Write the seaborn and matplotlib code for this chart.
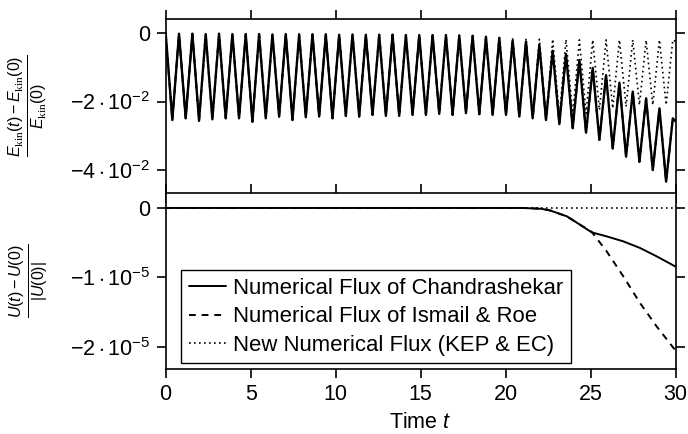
import matplotlib
matplotlib.use("Agg")
import numpy as np
import pandas as pd
import seaborn as sns
import matplotlib.pyplot as plt

# ---------------- data ----------------
# kinetic energy oscillation: period
period = 0.785
# relative kinetic energy at successive maxima (k = 0..38)
chandra_peaks = [0.0, -0.0002, -0.0002, -0.0003, -0.0002, -0.0003, -0.0003, -0.0003,
                 -0.0004, -0.0003, -0.0004, -0.0004, -0.0004, -0.0005, -0.0004, -0.0005,
                 -0.0005, -0.0005, -0.0006, -0.0006, -0.0006, -0.0006, -0.0007, -0.0008,
                 -0.0011, -0.0014, -0.0022, -0.0025, -0.0035, -0.0052, -0.0061, -0.0079,
                 -0.0102, -0.0123, -0.0145, -0.0171, -0.0191, -0.0220, -0.0249]
# relative kinetic energy at successive minima (k = 0..37)
chandra_troughs = [-0.0254, -0.0249, -0.0256, -0.0252, -0.0249, -0.0249, -0.0259, -0.0249,
                   -0.0244, -0.0254, -0.0246, -0.0244, -0.0249, -0.0242, -0.0244, -0.0239,
                   -0.0242, -0.0242, -0.0239, -0.0239, -0.0236, -0.0239, -0.0234, -0.0237,
                   -0.0239, -0.0239, -0.0244, -0.0249, -0.0254, -0.0266, -0.0278, -0.0291,
                   -0.0312, -0.0337, -0.0361, -0.0376, -0.0400, -0.0434]
ismail_peaks = list(chandra_peaks)
ismail_troughs = list(chandra_troughs)
kep_peaks = chandra_peaks[:25] + [-0.0012, -0.0015, -0.0016, -0.0018, -0.0018, -0.0019,
                                  -0.0020, -0.0020, -0.0020, -0.0020, -0.0020, -0.0021,
                                  -0.0020, -0.0020]
kep_troughs = chandra_troughs[:29] + [-0.0245, -0.0240, -0.0235, -0.0225, -0.0220,
                                      -0.0215, -0.0210, -0.0210, -0.0210]
end_t = 30.0
chandra_end = -0.0258
kep_end = -0.0025

# total energy deviation (units of 1e-5)
chandra_t = [0, 21.0, 22.1, 22.6, 23.6, 24.37, 25.06, 25.94, 26.92, 27.9, 28.88, 30.0]
chandra_U = [0, 0, -0.012, -0.035, -0.121, -0.241, -0.352, -0.41, -0.482, -0.577, -0.698, -0.847]
ismail_t = [0, 21.0, 22.1, 22.6, 23.6, 24.37, 25.06, 25.94, 26.92, 27.9, 28.88, 30.0]
ismail_U = [0, 0, -0.012, -0.035, -0.121, -0.241, -0.345, -0.626, -0.987, -1.371, -1.709, -2.06]
kep_t = [0, 30.0]
kep_U = [0, 0]

labels = ["Numerical Flux of Chandrashekar", "Numerical Flux of Ismail & Roe",
          "New Numerical Flux (KEP & EC)"]
xticks = [0, 5, 10, 15, 20, 25, 30]
top_yticks = [0, -0.02, -0.04]
top_yticklabels = ["0", r"$-2\cdot10^{-2}$", r"$-4\cdot10^{-2}$"]
bot_yticks = [0, -1e-5, -2e-5]
bot_yticklabels = ["0", r"$-1\cdot10^{-5}$", r"$-2\cdot10^{-5}$"]


def zigzag(peaks, troughs, end_val):
    t, v = [], []
    for k, p in enumerate(peaks):
        t.append(k * period)
        v.append(p)
        if k < len(troughs):
            t.append((k + 0.5) * period)
            v.append(troughs[k])
    t.append(end_t)
    v.append(end_val)
    return pd.DataFrame({"t": t, "v": v})


df_c = zigzag(chandra_peaks, chandra_troughs, chandra_end)
df_i = zigzag(ismail_peaks, ismail_troughs, chandra_end)
df_k = zigzag(kep_peaks, kep_troughs, kep_end)

bc = pd.DataFrame({"t": chandra_t, "v": np.array(chandra_U) * 1e-5})
bi = pd.DataFrame({"t": ismail_t, "v": np.array(ismail_U) * 1e-5})
bk = pd.DataFrame({"t": kep_t, "v": np.array(kep_U) * 1e-5})

# ---------------- style ----------------
sns.set_style("ticks")
plt.rcParams["font.family"] = ["Liberation Sans", "DejaVu Sans"]
plt.rcParams["mathtext.fontset"] = "custom"
plt.rcParams["mathtext.rm"] = "Liberation Sans"
plt.rcParams["mathtext.it"] = "Liberation Sans:italic"
plt.rcParams["mathtext.tt"] = "Liberation Serif"
plt.rcParams["axes.linewidth"] = 1.2
plt.rcParams["axes.edgecolor"] = "black"
plt.rcParams["text.color"] = "black"
plt.rcParams["axes.labelcolor"] = "black"
plt.rcParams["xtick.color"] = "black"
plt.rcParams["ytick.color"] = "black"

FS = 15.5
fig = plt.figure(figsize=(6.88, 4.34), dpi=100)
ax1 = fig.add_axes([0.2408, 0.5541, 0.7413, 0.4021])
ax2 = fig.add_axes([0.2408, 0.1505, 0.7413, 0.4037])

dash = (0, (3.5, 3))
dot = (0, (1, 2))

sns.lineplot(data=df_k, x="t", y="v", ax=ax1, color="black", lw=1.2, linestyle=dot,
             estimator=None, sort=False)
sns.lineplot(data=df_i, x="t", y="v", ax=ax1, color="black", lw=1.4, linestyle=dash,
             estimator=None, sort=False)
sns.lineplot(data=df_c, x="t", y="v", ax=ax1, color="black", lw=1.7,
             estimator=None, sort=False)

sns.lineplot(data=bc, x="t", y="v", ax=ax2, color="black", lw=1.4,
             estimator=None, sort=False, label=labels[0])
sns.lineplot(data=bi, x="t", y="v", ax=ax2, color="black", lw=1.4, linestyle=dash,
             estimator=None, sort=False, label=labels[1])
sns.lineplot(data=bk, x="t", y="v", ax=ax2, color="black", lw=1.2, linestyle=dot,
             estimator=None, sort=False, label=labels[2])

for ax in (ax1, ax2):
    ax.set_xlim(0, 30)
    ax.set_xticks(xticks)
    ax.tick_params(direction="out", top=True, right=True, length=6.5, width=1.2,
                   labelsize=FS, pad=4.5, colors="black")
    ax.set_xlabel("")
    ax.set_ylabel("")
    for s in ax.spines.values():
        s.set_visible(True)
        s.set_color("black")

ax1.set_ylim(-0.04686, 0.00409)
ax1.set_yticks(top_yticks)
ax1.set_yticklabels(top_yticklabels)
ax1.tick_params(labelbottom=False)

ax2.set_ylim(-2.319e-5, 0.209e-5)
ax2.set_yticks(bot_yticks)
ax2.set_yticklabels(bot_yticklabels)

leg = ax2.legend(loc="lower left", bbox_to_anchor=(0.031, 0.031), borderaxespad=0,
                 fontsize=15.9, frameon=True, fancybox=False, framealpha=1,
                 edgecolor="black", handlelength=1.67, handletextpad=0.3,
                 labelspacing=0.33, borderpad=0.35)
leg.get_frame().set_linewidth(1.0)
for txt in leg.get_texts():
    txt.set_color("black")

fig.text(28 / 688, 1 - 106 / 434,
         r"$\frac{E_{\mathtt{kin}}(t)-E_{\mathtt{kin}}(0)}{E_{\mathtt{kin}}(0)}$",
         rotation=90, ha="center", va="center", fontsize=16.5, color="black")
fig.text(29 / 688, 1 - 281 / 434, r"$\frac{U(t)-U(0)}{|U(0)|}$",
         rotation=90, ha="center", va="center", fontsize=16.5, color="black")
fig.text(420.7 / 688, 1 - 422 / 434, r"Time $t$", ha="center", va="center",
         fontsize=FS, color="black")

fig.savefig("out.png", dpi=100)
